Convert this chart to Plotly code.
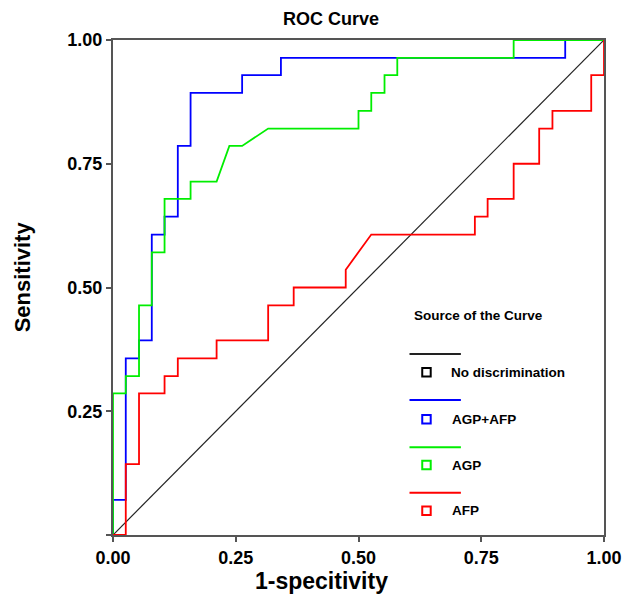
import plotly.graph_objects as go

# ---- data ----
diag_x = [0.0, 1.0]
diag_y = [0.0, 1.0]

agp_afp_x = [0.0, 0.0, 0.026, 0.026, 0.053, 0.053, 0.079, 0.079, 0.105, 0.105,
             0.132, 0.132, 0.158, 0.158, 0.263, 0.263, 0.342, 0.342, 0.921, 0.921, 1.0]
agp_afp_y = [0.0, 0.071, 0.071, 0.357, 0.357, 0.393, 0.393, 0.607, 0.607, 0.643,
             0.643, 0.786, 0.786, 0.893, 0.893, 0.929, 0.929, 0.964, 0.964, 1.0, 1.0]

agp_x = [0.0, 0.0, 0.026, 0.026, 0.053, 0.053, 0.079, 0.079, 0.105, 0.105, 0.158,
         0.158, 0.211, 0.237, 0.263, 0.276, 0.316, 0.5, 0.5, 0.526, 0.526, 0.553,
         0.553, 0.579, 0.579, 0.816, 0.816, 1.0]
agp_y = [0.0, 0.286, 0.286, 0.321, 0.321, 0.464, 0.464, 0.571, 0.571, 0.679, 0.679,
         0.714, 0.714, 0.786, 0.786, 0.795, 0.821, 0.821, 0.857, 0.857, 0.893, 0.893,
         0.929, 0.929, 0.964, 0.964, 1.0, 1.0]

afp_x = [0.0, 0.026, 0.026, 0.053, 0.053, 0.105, 0.105, 0.132, 0.132, 0.211, 0.211,
         0.316, 0.316, 0.368, 0.368, 0.474, 0.474, 0.526, 0.737, 0.737, 0.763, 0.763,
         0.816, 0.816, 0.868, 0.868, 0.895, 0.895, 0.974, 0.974, 1.0, 1.0]
afp_y = [0.0, 0.0, 0.143, 0.143, 0.286, 0.286, 0.321, 0.321, 0.357, 0.357, 0.393,
         0.393, 0.464, 0.464, 0.5, 0.5, 0.536, 0.607, 0.607, 0.643, 0.643, 0.679,
         0.679, 0.75, 0.75, 0.821, 0.821, 0.857, 0.857, 0.929, 0.929, 1.0]

tick_vals = [0.0, 0.25, 0.5, 0.75, 1.0]
x_tick_text = ["0.00", "0.25", "0.50", "0.75", "1.00"]
y_tick_text = ["", "0.25", "0.50", "0.75", "1.00"]

legend_names = ["No discrimination", "AGP+AFP", "AGP", "AFP"]
legend_colors = ["#000000", "#0000ff", "#00ee00", "#ff0000"]

FONT = "Liberation Sans, Arial, sans-serif"

fig = go.Figure()
fig.add_trace(go.Scatter(x=diag_x, y=diag_y, mode="lines",
                         line=dict(color="#222222", width=1.2), name="No discrimination"))
fig.add_trace(go.Scatter(x=agp_afp_x, y=agp_afp_y, mode="lines",
                         line=dict(color="#0000ff", width=1.8), name="AGP+AFP"))
fig.add_trace(go.Scatter(x=agp_x, y=agp_y, mode="lines",
                         line=dict(color="#00ee00", width=1.8), name="AGP"))
fig.add_trace(go.Scatter(x=afp_x, y=afp_y, mode="lines",
                         line=dict(color="#ff0000", width=1.8), name="AFP"))

# ---- custom legend (paper coordinates; plot area at page px 113-606 x 40-535) ----
def px_x(p):
    return (p - 113) / 493.0

def px_y(p):
    return (535 - p) / 495.0

shapes = []
annotations = []
annotations.append(dict(x=px_x(413), y=px_y(315), xref="paper", yref="paper",
                        text="Source of the Curve", showarrow=False, xanchor="left",
                        yanchor="middle", font=dict(family=FONT, size=13.5, color="#000", weight="bold")))
line_ys = [354, 400, 447.3, 492.7]
sq_ys = [372.3, 419.3, 465, 510.7]
text_xs = [450, 451.7, 451.7, 451.7]
for name, col, ly, sy, tx in zip(legend_names, legend_colors, line_ys, sq_ys, text_xs):
    shapes.append(dict(type="line", xref="paper", yref="paper",
                       x0=px_x(410.7), x1=px_x(462.3), y0=px_y(ly), y1=px_y(ly),
                       line=dict(color=col if col != "#000000" else "#222222", width=2)))
    shapes.append(dict(type="rect", xref="paper", yref="paper",
                       x0=px_x(423.5), x1=px_x(432), y0=px_y(sy + 4.2), y1=px_y(sy - 4.2),
                       line=dict(color=col, width=2), fillcolor="rgba(0,0,0,0)"))
    annotations.append(dict(x=px_x(tx), y=px_y(sy), xref="paper", yref="paper",
                            text=name, showarrow=False, xanchor="left", yanchor="middle",
                            font=dict(family=FONT, size=13.5, color="#000", weight="bold")))

# titles
annotations.append(dict(x=px_x(332), y=px_y(19), xref="paper", yref="paper",
                        text="ROC Curve", showarrow=False, xanchor="center", yanchor="middle",
                        font=dict(family=FONT, size=18, color="#000", weight="bold")))
annotations.append(dict(x=px_x(22), y=px_y(277), xref="paper", yref="paper",
                        text="Sensitivity", showarrow=False, textangle=-90,
                        xanchor="center", yanchor="middle",
                        font=dict(family=FONT, size=22, color="#000", weight="bold")))
annotations.append(dict(x=px_x(322), y=px_y(581), xref="paper", yref="paper",
                        text="1-specitivity", showarrow=False, xanchor="center", yanchor="middle",
                        font=dict(family=FONT, size=23, color="#000", weight="bold")))

axis_common = dict(range=[0, 1], showgrid=False, zeroline=False, showline=True,
                   linecolor="#555555", linewidth=2, mirror=True, ticks="outside",
                   ticklen=5, tickwidth=1.5, tickcolor="#555555", tickvals=tick_vals,
                   tickfont=dict(family=FONT, size=18, color="#000", weight="bold"))

# page body has an 8px margin, so the figure is sized 8px smaller
fig.update_layout(
    width=626, height=588,
    margin=dict(l=105, r=20, t=32, b=61),
    paper_bgcolor="white", plot_bgcolor="white",
    showlegend=False,
    xaxis=dict(**axis_common, ticktext=x_tick_text),
    yaxis=dict(**axis_common, ticktext=y_tick_text),
    shapes=shapes,
    annotations=annotations,
)

fig.write_html("out.html")
